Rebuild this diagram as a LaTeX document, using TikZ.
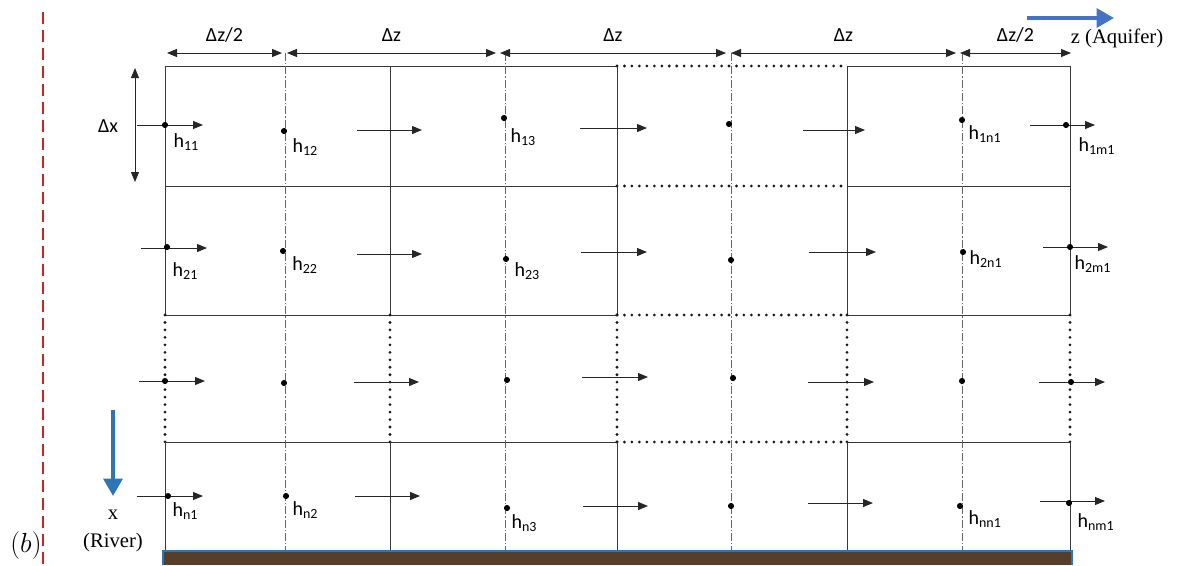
\documentclass[tikz,border=0pt]{standalone}
\usepackage{fontspec}
\setmainfont{Liberation Serif}
\newfontfamily\calibri{Carlito}
\usepackage{tikz}
\usetikzlibrary{arrows.meta,positioning}

\definecolor{riverblue}{RGB}{46,117,182}
\definecolor{aquiferblue}{RGB}{68,114,196}
\definecolor{borderred}{RGB}{200,38,38}
\definecolor{soil}{RGB}{86,62,40}

\tikzset{
  gridline/.style={draw=black!78, line width=0.7pt},
  dotline/.style={draw=black!90, line width=2.3pt, line cap=round, dash pattern=on 0pt off 5.6pt},
  axisline/.style={draw=black!60, line width=0.55pt, dash pattern=on 6pt off 1.6pt on 0.8pt off 1.6pt},
  flux/.style={draw=black!85, line width=0.75pt, -{Triangle[length=7.5pt,width=6pt]}},
  dimline/.style={draw=black!85, line width=0.75pt, {Triangle[length=7.5pt,width=6pt]}-{Triangle[length=7.5pt,width=6pt]}},
  head/.style={circle, fill=black, inner sep=0pt, minimum size=4.6pt},
  hlabel/.style={font=\calibri\fontsize{15}{17}\selectfont, inner sep=0pt},
  dimlabel/.style={font=\calibri\fontsize{15}{17}\selectfont, inner sep=0pt, text depth=0pt},
  bigarrow/.style={line width=3pt, -{Triangle[length=13pt,width=14pt]}},
  axislabel/.style={font=\fontsize{15.5}{17}\selectfont, inner sep=0pt},
}

% one horizontal grid line: solid, dotted middle column, solid
\newcommand{\drawrowline}[1]
{
  \draw [gridline] (165,#1) -- (617,#1);
  \draw [dotline] (617,#1) -- (847,#1);
  \draw [gridline] (847,#1) -- (1070,#1);
}
% one vertical grid line: solid, dotted third row, solid
\newcommand{\drawcolline}[1]
{
  \draw [gridline] (#1,66) -- (#1,315);
  \draw [dotline] (#1,315) -- (#1,442);
  \draw [gridline] (#1,442) -- (#1,551);
}
% node point with its head label (name, x, y, subscript, down and right)
\newcommand{\drawhead}[5]
{
  \node [head] (#1) at (#2,#3) {};
  \node [hlabel, below right=#5 of #1] (#1lab) {h\textsubscript{#4}};
}
\newcommand{\drawdot}[3]
{
  \node [head] (#1) at (#2,#3) {};
}
\newcommand{\drawflux}[3]
{
  \draw [flux] (#1,#3) -- (#2,#3);
}

\begin{document}
\begin{tikzpicture}[x=0.75pt,y=-0.75pt]
    \useasboundingbox (0,0) rectangle (1185,565);

    % river boundary
    \draw [borderred, line width=2.2pt, dash pattern=on 9pt off 4.5pt] (43,12) -- (43,565);

    % grid
    \drawrowline{66}
    \drawrowline{186}
    \drawrowline{315}
    \drawrowline{442}
    \drawcolline{165}
    \drawcolline{390}
    \drawcolline{617}
    \drawcolline{847}
    \drawcolline{1070}
    \draw [axisline] (285,53) -- (285,551);
    \draw [axisline] (505,53) -- (505,551);
    \draw [axisline] (731,53) -- (731,551);
    \draw [axisline] (962,53) -- (962,551);

    % soil at the bottom
    \fill [soil] (163,551) rectangle (1072,565);
    \draw [riverblue, line width=1pt] (163,565) -- (163,551) -- (1072,551) -- (1072,565);

    % spacing marks
    \coordinate (t0) at (167,53);
    \coordinate (t1) at (282,53);
    \coordinate (t2) at (287,53);
    \coordinate (t3) at (496,53);
    \coordinate (t4) at (500,53);
    \coordinate (t5) at (726,53);
    \coordinate (t6) at (731,53);
    \coordinate (t7) at (956,53);
    \coordinate (t8) at (960,53);
    \coordinate (t9) at (1071,53);
    \draw [dimline] (t0) -- (t1) node[dimlabel, midway, above=8pt] (dz1) {Δz/2};
    \draw [dimline] (t2) -- (t3) node[dimlabel, midway, above=8pt] (dz2) {Δz};
    \draw [dimline] (t4) -- (t5) node[dimlabel, midway, above=8pt] (dz3) {Δz};
    \draw [dimline] (t6) -- (t7) node[dimlabel, midway, above=8pt] (dz4) {Δz};
    \draw [dimline] (t8) -- (t9) node[dimlabel, midway, above=8pt] (dz5) {Δz/2};

    \coordinate (x0) at (135,68);
    \coordinate (x1) at (135,182);
    \draw [dimline] (x0) -- (x1);
    \node [dimlabel] (dx) at (108,126) {Δx};

    % row 1
    \drawflux{137}{203}{125}
    \drawflux{357}{422}{130}
    \drawflux{580}{647}{128}
    \drawflux{803}{865}{130}
    \drawflux{1030}{1095}{125}
    \drawhead{h11}{165}{125}{11}{4.5pt and 4.5pt}
    \drawhead{h12}{284}{131}{12}{3.8pt and 4.5pt}
    \drawhead{h13}{504}{118}{13}{6pt and 3pt}
    \drawdot{h14}{729}{124}
    \drawhead{h1n1}{962}{120}{1n1}{2.3pt and 3pt}
    \drawhead{h1m1}{1066}{125}{1m1}{7.5pt and 7.5pt}

    % row 2
    \drawflux{141}{207}{248}
    \drawflux{357}{422}{254}
    \drawflux{581}{647}{252}
    \drawflux{809}{876}{252}
    \drawflux{1043}{1108}{247}
    \drawhead{h21}{167}{247}{21}{9.8pt and 2.3pt}
    \drawhead{h22}{283}{251}{22}{2.3pt and 5pt}
    \drawhead{h23}{506}{259}{23}{0.8pt and 4.5pt}
    \drawdot{h24}{731}{260}
    \drawhead{h2n1}{963}{252}{2n1}{-3pt and 3pt}
    \drawhead{h2m1}{1070}{247}{2m1}{4.5pt and 1.5pt}

    % row 3
    \drawflux{139}{205}{381}
    \drawflux{354}{419}{382}
    \drawflux{582}{648}{377}
    \drawflux{808}{874}{382}
    \drawflux{1039}{1105}{382}
    \drawdot{h31}{165}{381}
    \drawdot{h32}{284}{383}
    \drawdot{h33}{507}{380}
    \drawdot{h34}{733}{378}
    \drawdot{h35}{962}{381}
    \drawdot{h36}{1071}{382}

    % row n
    \drawflux{137}{203}{496}
    \drawflux{355}{420}{496}
    \drawflux{583}{648}{506}
    \drawflux{808}{873}{503}
    \drawflux{1040}{1105}{501}
    \drawhead{hn1}{168}{496}{n1}{3pt and 1.5pt}
    \drawhead{hn2}{286}{496}{n2}{2.3pt and 3pt}
    \drawhead{hn3}{507}{508}{n3}{3pt and 1.5pt}
    \drawdot{hn4}{731}{506}
    \drawhead{hnn1}{960}{506}{nn1}{1.5pt and 4.5pt}
    \drawhead{hnm1}{1069}{503}{nm1}{6pt and 4.5pt}

    % flow directions
    \coordinate (r0) at (113,410);
    \coordinate (r1) at (113,496);
    \draw [bigarrow, riverblue] (r0) -- (r1);
    \node [axislabel] (xlab) at (113,515) {x};
    \node [axislabel] (river) at (113,543) {(River)};
    \coordinate (a0) at (1027,18);
    \coordinate (a1) at (1114,18);
    \draw [bigarrow, aquiferblue] (a0) -- (a1);
    \node [axislabel] (aquifer) at (1117,38) {z (Aquifer)};

    \node [font=\fontsize{20}{22}\selectfont, inner sep=0pt] (panel) at (26,546) {$(b)$};
\end{tikzpicture}
\end{document}
